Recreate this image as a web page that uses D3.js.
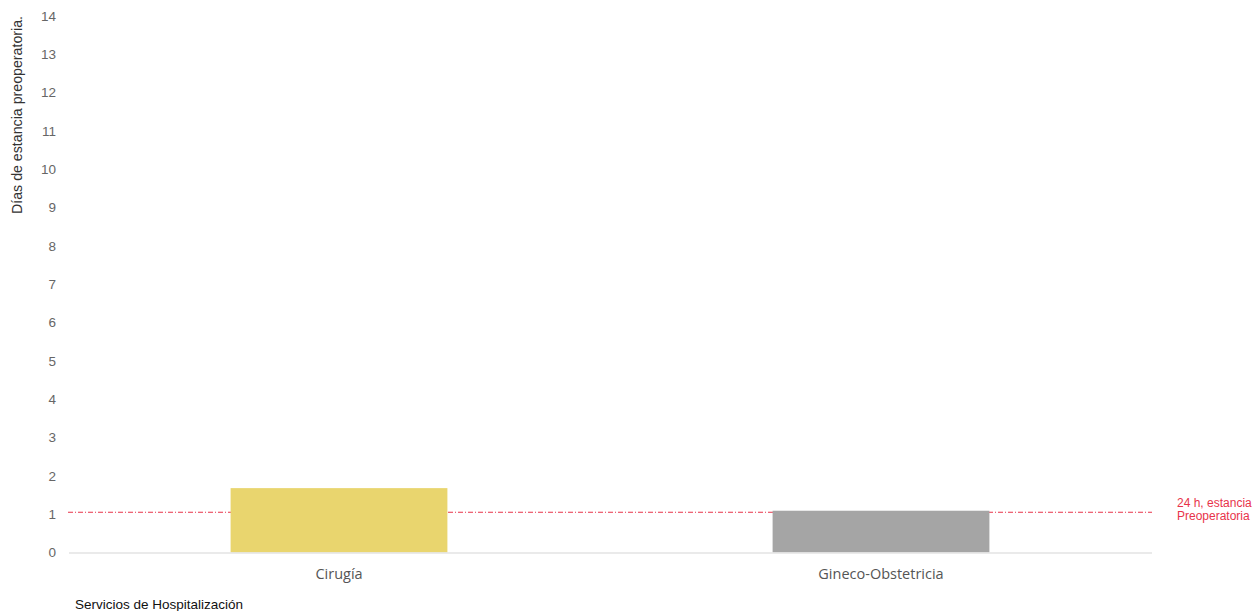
<!DOCTYPE html>
<html>
<head>
<meta charset="utf-8">
<script src="https://cdn.jsdelivr.net/npm/d3@7"></script>
<style>
  html, body { margin: 0; padding: 0; background: #fff; }
</style>
</head>
<body>
<svg id="chart" width="1255" height="611"></svg>
<script>
// Preoperative stay by hospital service (days)
const categories = ["Cirugía", "Gineco-Obstetricia"];
const values = [1.68, 1.09];
const barColors = ["#e9d56e", "#a5a5a5"];
const yTicks = [0, 1, 2, 3, 4, 5, 6, 7, 8, 9, 10, 11, 12, 13, 14];
const thresholdValue = 1.05;
const thresholdLabel = ["24 h, estancia", "Preoperatoria"];

const svg = d3.select("#chart");
const plotLeft = 68, plotRight = 1152, plotTop = 16, plotBottom = 552.5;

const x = d3.scaleBand().domain(categories).range([plotLeft, plotRight])
  .paddingInner(0.6).paddingOuter(0.3);
const y = d3.scaleLinear().domain([0, 14]).range([plotBottom, plotTop]);

// y-axis tick labels
const yAxis = svg.append("g").attr("transform", `translate(${plotLeft - 12},0)`)
  .call(d3.axisLeft(y).tickValues(yTicks).tickSize(0).tickPadding(0));
yAxis.select(".domain").remove();
yAxis.selectAll("text")
  .attr("font-family", "Liberation Sans, Arial, sans-serif")
  .attr("font-size", 13.5).attr("fill", "#666");

// threshold line
svg.append("line")
  .attr("x1", plotLeft).attr("x2", plotRight)
  .attr("y1", y(thresholdValue)).attr("y2", y(thresholdValue))
  .attr("stroke", "#e8334a").attr("stroke-width", 1)
  .attr("stroke-dasharray", "5,2,1,2");

// bars
svg.append("g").selectAll("rect").data(values).join("rect")
  .attr("x", (d, i) => x(categories[i]))
  .attr("width", x.bandwidth())
  .attr("y", d => y(d))
  .attr("height", d => y(0) - y(d))
  .attr("fill", (d, i) => barColors[i]);

// baseline
svg.append("line")
  .attr("x1", plotLeft + 1).attr("x2", plotRight)
  .attr("y1", y(0) + 0.5).attr("y2", y(0) + 0.5)
  .attr("stroke", "#e3e3e3").attr("stroke-width", 1.5);

// category labels
const xAxis = svg.append("g").attr("transform", `translate(0,${y(0)})`)
  .call(d3.axisBottom(x).tickSize(0).tickPadding(16));
xAxis.select(".domain").remove();
xAxis.selectAll("text")
  .attr("font-family", "Open Sans, sans-serif")
  .attr("font-size", 14.5).attr("fill", "#555");

// threshold label
const tl = svg.append("text")
  .attr("x", 1177).attr("y", 507)
  .attr("font-family", "Liberation Sans, Arial, sans-serif")
  .attr("font-size", 12).attr("fill", "#e8334a");
thresholdLabel.forEach((t, i) => {
  tl.append("tspan").attr("x", 1177).attr("dy", i === 0 ? 0 : 12.5).text(t);
});

// axis titles
svg.append("text")
  .attr("transform", "translate(22,115) rotate(-90)")
  .attr("text-anchor", "middle")
  .attr("font-family", "Liberation Sans, Arial, sans-serif")
  .attr("font-size", 14.2).attr("fill", "#333")
  .text("Días de estancia preoperatoria.");

svg.append("text")
  .attr("x", 75).attr("y", 609)
  .attr("font-family", "Liberation Sans, Arial, sans-serif")
  .attr("font-size", 13.5).attr("fill", "#111")
  .text("Servicios de Hospitalización");
</script>
</body>
</html>
